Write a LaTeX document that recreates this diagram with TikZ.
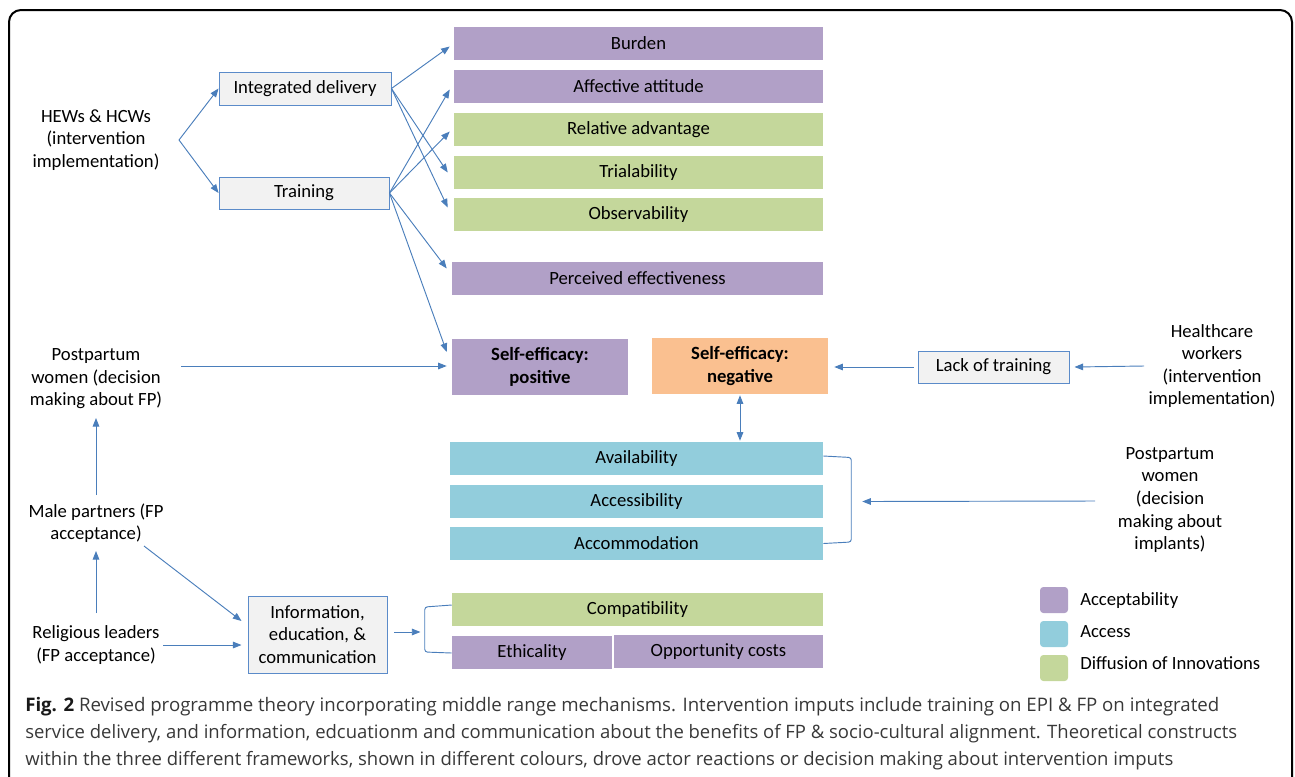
\documentclass[tikz,border=0pt]{standalone}
\usepackage{fontspec}
\setmainfont{Carlito}
\newfontfamily\capfont{Open Sans}
\usetikzlibrary{arrows.meta,calc}
\definecolor{purp}{HTML}{B1A0C7}
\definecolor{dgreen}{HTML}{C4D79B}
\definecolor{acblue}{HTML}{92CDDC}
\definecolor{orng}{HTML}{FAC090}
\definecolor{arrblue}{HTML}{4A7EBB}
\definecolor{boxblue}{HTML}{5B8BC9}
\definecolor{boxgrey}{HTML}{F2F2F2}
\newlength\pxu
\setlength\pxu{0.75pt}
\newcommand\mainsize{\fontsize{14}{16.9}\selectfont}
\newcommand\mybox[7]{\node[#2, minimum width={(#5-#3)*0.75pt}, minimum height={(#6-#4)*0.75pt}] (#1) at ({(#3+#5)/2},{(#4+#6)/2}) {#7};}
\begin{document}
\begin{tikzpicture}[x=0.75pt,y=-0.75pt,
  font=\mainsize,
  fillbox/.style={inner sep=0pt, align=center, text=black},
  greybox/.style={draw=boxblue, line width=0.7pt, fill=boxgrey, inner sep=0pt, align=center},
  lbl/.style={align=center, inner sep=0pt},
  arr/.style={draw=arrblue, line width=0.7pt, -{Triangle[length=6.5pt,width=5pt]}},
  dblarr/.style={draw=arrblue, line width=0.7pt, {Triangle[length=6.5pt,width=5pt]}-{Triangle[length=6.5pt,width=5pt]}},
  brk/.style={draw=arrblue, line width=0.7pt, rounded corners=2pt},
  legsq/.style={inner sep=0pt, minimum width=28*0.75pt, minimum height=26*0.75pt, rounded corners=2.5pt},
  legtxt/.style={anchor=west, inner sep=0pt},
  captxt/.style={anchor=west, inner sep=0pt, text=black!78},
]
\useasboundingbox (0,0) rectangle (1295,776);
\begin{scope}
\clip (0,0) rectangle (1295,776);
\draw[line width=1.5pt, rounded corners=9pt] (9,10) rectangle (1292,820);
\end{scope}

% coloured construct boxes
\mybox{burden}{fillbox,fill=purp}{454}{27}{823}{60}{Burden}
\mybox{affect}{fillbox,fill=purp}{454}{70}{823}{103}{Affective attitude}
\mybox{reladv}{fillbox,fill=dgreen}{454}{113}{823}{146}{Relative advantage}
\mybox{trial}{fillbox,fill=dgreen}{454}{156}{823}{189}{Trialability}
\mybox{observ}{fillbox,fill=dgreen}{454}{198}{823}{231}{Observability}
\mybox{perceff}{fillbox,fill=purp}{452}{262}{823}{295}{Perceived effectiveness}
\mybox{sepos}{fillbox,fill=purp,font=\fontsize{14}{17.2}\selectfont\bfseries}{452}{339}{628}{395}{Self-efficacy:\\positive}
\mybox{seneg}{fillbox,fill=orng,font=\fontsize{14}{17.2}\selectfont\bfseries}{652}{338}{828}{394}{Self-efficacy:\\negative}
\mybox{avail}{fillbox,fill=acblue}{450}{442}{823}{475}{Availability}
\mybox{access}{fillbox,fill=acblue}{450}{485}{823}{518}{Accessibility}
\mybox{accom}{fillbox,fill=acblue}{450}{527}{823}{560}{Accommodation}
\mybox{compat}{fillbox,fill=dgreen}{452}{593}{823}{626}{Compatibility}
\mybox{ethic}{fillbox,fill=purp}{452}{636}{612}{669}{Ethicality}
\mybox{oppcost}{fillbox,fill=purp}{614}{635}{823}{668}{Opportunity costs}

% grey intervention boxes
\mybox{intdel}{greybox}{219}{72}{391}{105}{Integrated delivery}
\mybox{train}{greybox}{219}{177}{389}{209}{Training}
\mybox{lack}{greybox}{918}{351}{1069}{383}{Lack of training}
\mybox{iec}{greybox}{248}{596}{387}{673}{Information,\\education, \&\\communication}

% actor labels
\node[lbl] (hews) at (96,140) {HEWs \& HCWs\\(intervention\\implementation)};
\node[lbl] (ppw) at (96,379) {Postpartum\\women (decision\\making about FP)};
\node[lbl] (male) at (96,523) {Male partners (FP\\acceptance)};
\node[lbl] (relig) at (96,645) {Religious leaders\\(FP acceptance)};
\node[lbl] (hcw) at (1212,366) {Healthcare\\workers\\(intervention\\implementation)};
\node[lbl] (ppi) at (1170,500) {Postpartum\\women\\(decision\\making about\\implants)};

% connectors
\draw[arr] ($(hews)+(83,0)$) -- (intdel.west);
\draw[arr] ($(hews)+(83,0)$) -- (train.west);
\draw[arr] (intdel.east) -- ($(burden.west)+(-4,3)$);
\draw[arr] (intdel.east) -- ($(trial.west)+(-6,0)$);
\draw[arr] (intdel.east) -- ($(observ.west)+(-6,-7)$);
\draw[arr] (train.east) -- ($(affect.west)+(-4,3)$);
\draw[arr] (train.east) -- ($(reladv.west)+(-4,2)$);
\draw[arr] (train.east) -- ($(perceff.west)+(-5,-10)$);
\draw[arr] (train.east) -- ($(sepos.west)+(-5,-15)$);
\draw[arr] ($(ppw)+(85,-13)$) -- ($(sepos.west)+(-5,-1)$);
\draw[arr] ($(hcw)+(-68,0)$) -- ($(lack.east)+(5,0)$);
\draw[arr] ($(lack.west)+(-4,0)$) -- ($(seneg.east)+(6,1)$);
\draw[dblarr] ($(seneg.south)+(0,1)$) -- ($(seneg.south |- avail.north)+(0,-1)$);
\draw[brk] ($(avail.east)+(0,-2.5)$) -- ($(avail.east)+(28,-1)$) -- ($(accom.east)+(28,-1.5)$) -- (accom.east);
\draw[arr] ($(ppi)+(-75,1)$) -- ($(access.east)+(39,0)$);
\draw[arr] ($(male)+(0,-28)$) -- ($(ppw)+(0,39)$);
\draw[arr] ($(relig)+(0,-32)$) -- ($(male)+(0,28)$);
\draw[arr] ($(male)+(48,23)$) -- ($(iec.west)+(-6,-13.5)$);
\draw[arr] ($(relig)+(67,0)$) -- ($(iec.west)+(-6,10.5)$);
\draw[arr] ($(iec.east)+(7,-2.5)$) -- ($(iec.east)+(33,-2.5)$);
\draw[brk] ($(compat.west)+(0,-4.5)$) -- ($(compat.west)+(-27,-2.5)$) -- ($(ethic.west)+(-27,-0.5)$) -- ($(ethic.west)+(0,0.5)$);

% legend
\node[legsq, fill=purp] (lg1) at (1054,600) {};
\node[legsq, fill=acblue] (lg2) at (1054,634) {};
\node[legsq, fill=dgreen] (lg3) at (1054,668) {};
\node[legtxt] (lt1) at (1080,601) {Acceptability};
\node[legtxt] (lt2) at (1080,632) {Access};
\node[legtxt] (lt3) at (1080,663) {Diffusion of Innovations};

% caption
\node[captxt] (cap1) at (25,707) {\resizebox{1194\pxu}{!}{\capfont\fontsize{15}{18}\selectfont\textbf{\color{black!90}Fig. 2} Revised programme theory incorporating middle range mechanisms. Intervention imputs include training on EPI \& FP on integrated}};
\node[captxt] (cap2) at (25,734) {\resizebox{1212\pxu}{!}{\capfont\fontsize{15}{18}\selectfont service delivery, and information, edcuationm and communication about the benefits of FP \& socio-cultural alignment. Theoretical constructs}};
\node[captxt] (cap3) at (25,761) {\resizebox{1148\pxu}{!}{\capfont\fontsize{15}{18}\selectfont within the three different frameworks, shown in different colours, drove actor reactions or decision making about intervention imputs}};
\end{tikzpicture}
\end{document}
